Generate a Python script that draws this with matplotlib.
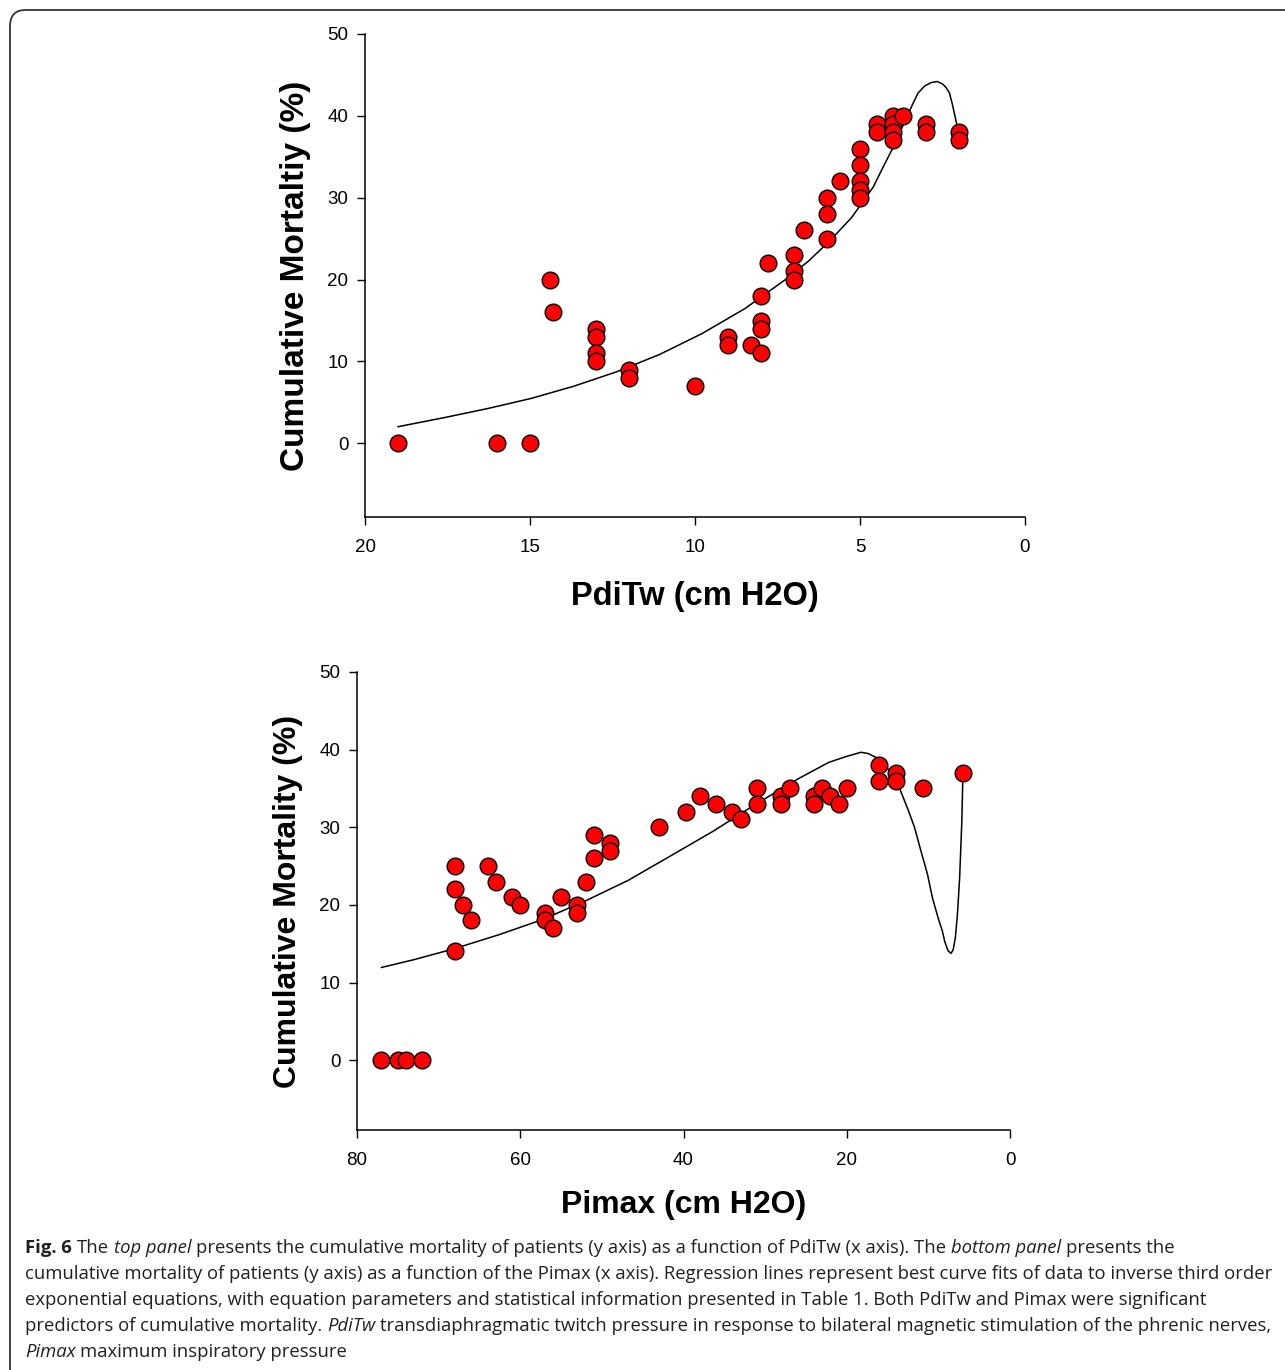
import matplotlib
matplotlib.use("Agg")
import matplotlib.pyplot as plt
from matplotlib.patches import FancyBboxPatch

# ---------------------------------------------------------------- data
# top panel: PdiTw vs cumulative mortality
pditw = [19, 16, 15, 14.4, 14.3, 13, 13, 13, 13, 12, 12, 10,
         9, 9, 8.3, 8, 8, 8, 8, 7.8, 7, 7, 7, 6.7, 6, 6, 6, 5.6,
         5, 5, 5, 5, 5, 4.5, 4.5, 4, 4, 4, 4, 3.7, 3, 3, 2, 2]
mort_top = [0, 0, 0, 20, 16, 14, 13, 11, 10, 9, 8, 7,
            13, 12, 12, 18, 15, 14, 11, 22, 23, 21, 20, 26, 30, 28, 25, 32,
            36, 34, 32, 31, 30, 39, 38, 40, 39, 38, 37, 40, 39, 38, 38, 37]

# regression line
fit_top_x = [19, 17.56, 16.27, 14.97, 13.67, 12.38, 11.08, 9.79, 8.49, 7.19,
             6.55, 5.9, 5.25, 4.6, 4.28, 3.95, 3.69, 3.43, 3.24, 3.04, 2.85,
             2.66, 2.5, 2.4, 2.29, 2.2, 2.07, 2.0]
fit_top_y = [2.03, 3.17, 4.26, 5.48, 6.98, 8.73, 10.84, 13.4, 16.45, 20.2,
             22.3, 24.8, 27.6, 31.3, 33.9, 36.5, 38.9, 41.2, 42.8, 43.65, 44.06,
             44.2, 43.9, 43.5, 42.8, 41.4, 39.0, 36.75]

# bottom panel: Pimax vs cumulative mortality
pimax = [77, 75, 74, 72, 68, 68, 67, 66, 68, 64, 63, 61, 60, 57, 57, 56,
         55, 53, 53, 52, 51, 51, 49, 49, 43, 39.7, 38, 36, 34, 33, 31, 31,
         28, 28, 27, 24, 24, 23, 22, 21, 20, 16, 16, 14, 14, 10.6, 5.8]
mort_bot = [0, 0, 0, 0, 25, 22, 20, 18, 14, 25, 23, 21, 20, 19, 18, 17,
            21, 20, 19, 23, 29, 26, 28, 27, 30, 32, 34, 33, 32, 31, 35, 33,
            34, 33, 35, 34, 33, 35, 34, 33, 35, 38, 36, 37, 36, 35, 37]

fit_bot_x = [77.0, 73.07, 68.1, 62.6, 57.3, 52.1, 46.8, 41.6, 36.35, 31.1,
             25.85, 22.2, 20.1, 18.25, 17.4, 16.4, 15.6, 14.84, 14.05, 13.26,
             12.5, 11.7, 10.9, 10.1, 9.5, 8.8, 8.28, 8.0,
             7.6, 7.23, 6.97, 6.7, 6.44, 6.17, 5.9, 5.76]
fit_bot_y = [11.94, 12.93, 14.35, 16.16, 18.1, 20.47, 23.15, 26.3, 29.5, 33.0,
             36.3, 38.36, 39.1, 39.66, 39.5, 39.0, 38.7, 37.3, 36.4, 34.3,
             32.3, 30.0, 26.9, 23.9, 20.9, 18.3, 16.6, 15.3,
             14.1, 13.75, 14.2, 15.7, 18.75, 23.5, 30.8, 37.3]

ytick_vals = [0, 10, 20, 30, 40, 50]

caption = [
    [("Fig. 6", "bold", "normal"), ("The", "normal", "normal"), ("top panel", "normal", "italic"),
     ("presents the cumulative mortality of patients (y axis) as a function of PdiTw (x axis). The", "normal", "normal"),
     ("bottom panel", "normal", "italic"), ("presents the", "normal", "normal")],
    [("cumulative mortality of patients (y axis) as a function of the Pimax (x axis). Regression lines represent best curve fits of data to inverse third order", "normal", "normal")],
    [("exponential equations, with equation parameters and statistical information presented in Table 1. Both PdiTw and Pimax were significant", "normal", "normal")],
    [("predictors of cumulative mortality.", "normal", "normal"), ("PdiTw", "normal", "italic"),
     ("transdiaphragmatic twitch pressure in response to bilateral magnetic stimulation of the phrenic nerves,", "normal", "normal")],
    [("Pimax", "normal", "italic"), ("maximum inspiratory pressure", "normal", "normal")],
]

# ---------------------------------------------------------------- figure
W, H = 1285, 1370
fig = plt.figure(figsize=(W / 100, H / 100), dpi=100)
plt.rcParams['font.family'] = ['Liberation Sans', 'DejaVu Sans']


def px_axes(l, t, r, b):
	return fig.add_axes([l / W, 1 - b / H, (r - l) / W, (b - t) / H])


def style_axes(ax):
	for s in ['top', 'right']:
		ax.spines[s].set_visible(False)
	for s in ['left', 'bottom']:
		ax.spines[s].set_linewidth(1.1)
	ax.tick_params(direction='out', length=6, width=1, labelsize=13.5)
	ax.tick_params(axis='x', pad=10)
	ax.tick_params(axis='y', pad=6)


ax1 = px_axes(365, 34, 1025, 517)
ax1.plot(fit_top_x, fit_top_y, color='black', lw=1.1, zorder=3)
ax1.plot(pditw, mort_top, 'o', ms=12, mfc='#ff0000', mec='black', mew=1, zorder=4)
ax1.set_xlim(20, 0)
ax1.set_ylim(-9, 50)
ax1.set_xticks([20, 15, 10, 5, 0])
ax1.set_yticks(ytick_vals)
style_axes(ax1)
ax1.set_xlabel("PdiTw (cm H2O)", fontsize=23.5, fontweight='bold', labelpad=18)
ax1.set_ylabel("Cumulative Mortaltiy (%)", fontsize=24, fontweight='bold', labelpad=12)

ax2 = px_axes(357, 672, 1010, 1130)
ax2.plot(fit_bot_x, fit_bot_y, color='black', lw=1.1, zorder=3)
ax2.plot(pimax, mort_bot, 'o', ms=12, mfc='#ff0000', mec='black', mew=1, zorder=4)
ax2.set_xlim(80, 0)
ax2.set_ylim(-9, 50)
ax2.set_xticks([80, 60, 40, 20, 0])
ax2.set_yticks(ytick_vals)
style_axes(ax2)
ax2.set_xlabel("Pimax (cm H2O)", fontsize=23, fontweight='bold', labelpad=15)
ax2.set_ylabel("Cumulative Mortality (%)", fontsize=23, fontweight='bold', labelpad=12)

# rounded frame around the figure (cut off on the right / bottom)
frame = FancyBboxPatch((10 / W, -20 / H), 1.2, (H - 10 + 20) / H,
                       boxstyle="round,pad=0,rounding_size=0.012",
                       transform=fig.transFigure, fill=False, ec='#333333', lw=1.3)
fig.patches.append(frame)

# ---------------------------------------------------------------- caption
cap_font = ['Open Sans', 'DejaVu Sans']
cap_size = 13.3
renderer = fig.canvas.get_renderer()


def text_width(s, weight, style):
	t = fig.text(0, 0, s, fontsize=cap_size, family=cap_font, fontweight=weight, fontstyle=style)
	w = t.get_window_extent(renderer).width
	t.remove()
	return w


baselines = [1253, 1279, 1305, 1331, 1357]
for line, yb in zip(caption, baselines):
	x = 25
	for txt, weight, style in line:
		fig.text(x / W, 1 - yb / H, txt, fontsize=cap_size, family=cap_font,
		         fontweight=weight, fontstyle=style, color='#231f20', va='baseline')
		space = text_width("a a", weight, style) - text_width("aa", weight, style)
		x += text_width(txt, weight, style) + space

fig.savefig("out.png", dpi=100)
